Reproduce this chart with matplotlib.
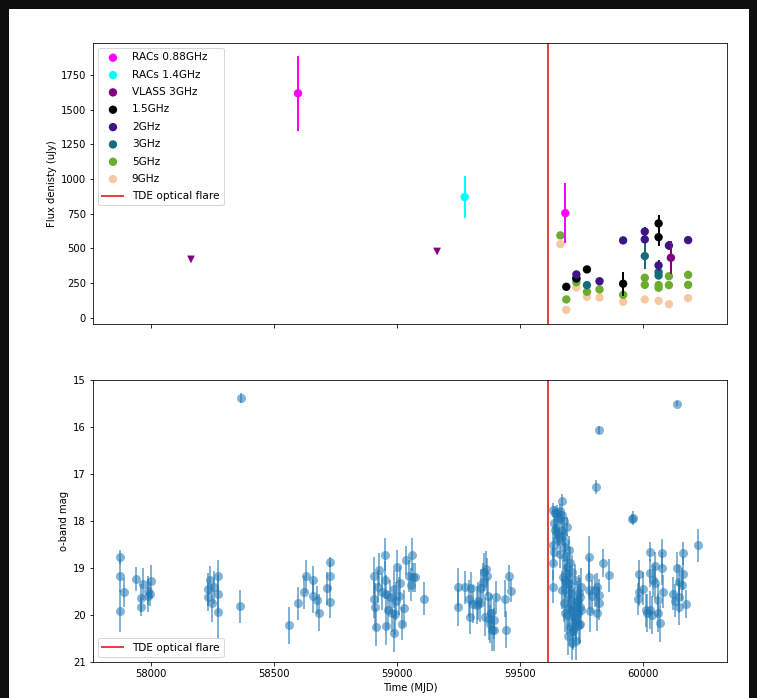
import matplotlib
matplotlib.use("Agg")
import matplotlib.pyplot as plt
from matplotlib.patches import Rectangle
import numpy as np

# ---------------- radio data ----------------
racs088_t = [58597, 59683]
racs088_f = [1617, 754]
racs088_e = [270, 215]

racs14_t = [59274]
racs14_f = [870]
racs14_e = [150]

vlass_lim_t = [58162, 59162]
vlass_lim_f = [421, 478]
vlass_t = [60112]
vlass_f = [433]
vlass_e = [120]

g15_t = [59687, 59728, 59771, 59918, 60062, 60062]
g15_f = [224, 285, 349, 246, 680, 581]
g15_e = [10, 10, 10, 85, 60, 60]

g2_t = [59728, 59822, 59918, 60006, 60006, 60062, 60104, 60182]
g2_f = [313, 264, 558, 622, 565, 378, 521, 560]
g2_e = [15, 15, 10, 30, 15, 40, 35, 10]

g3_t = [59728, 59771, 60006, 60062, 60062]
g3_f = [282, 236, 445, 330, 305]
g3_e = [15, 15, 95, 30, 20]

g5_t = [59663, 59687, 59728, 59771, 59822, 59918, 60006, 60006, 60062, 60062, 60104, 60104, 60182, 60182]
g5_f = [594, 133, 257, 188, 205, 166, 289, 238, 236, 217, 300, 236, 310, 238]
g5_e = [10] * 14

g9_t = [59663, 59687, 59728, 59771, 59822, 59918, 60006, 60062, 60104, 60182]
g9_f = [531, 58, 219, 152, 147, 116, 133, 123, 99, 142]
g9_e = [10] * 10

flare_mjd = 59611

# ---------------- optical data ----------------
o_t = [57875, 57875, 57875, 57889, 57940, 57957, 57957, 57967, 57986, 57986, 58000, 57994,
       58230, 58233, 58241, 58246, 58257, 58271, 58273, 58273, 58363, 58366,
       58560, 58595, 58620, 58628, 58658, 58658, 58674, 58682, 58715, 58725, 58725, 58725,
       58907, 58907, 58911, 58915, 58920, 58928, 58952, 58952, 58956, 58956, 58961, 58972,
       58979, 58988, 58992, 58999, 59006, 59013, 59019, 59026, 59037, 59046, 59056, 59061,
       59064, 59073, 59110, 58995, 58985, 58940,
       59245, 59245, 59275, 59292, 59294, 59300, 59310, 59324, 59337, 59340, 59348, 59354,
       59359, 59365, 59358, 59367, 59371, 59378, 59385, 59392, 59402, 59440, 59443, 59454,
       59462, 59330, 59395, 59380,
       59669, 59635, 59642, 59649, 59655, 59662, 59669, 59676, 59690, 59640, 59648, 59656,
       59637, 59645, 59652, 59660, 59668, 59675, 59683,
       59633, 59633, 59633, 59636, 59676, 59683, 59690, 59697, 59703, 59710, 59673, 59683,
       59697, 59676, 59683, 59703, 59710, 59717, 59730, 59737, 59741, 59737, 59703, 59690,
       59724, 59669, 59744, 59700, 59720, 59735, 59715, 59695, 59725, 59745,
       59662, 59690, 59706, 59714, 59728, 59733, 59722, 59699, 59686, 59744, 59748, 59712,
       59780, 59780, 59780, 59784, 59805, 59811, 59818, 59820, 59813, 59836, 59859, 59791,
       59807, 59818, 59956,
       60136, 59958, 60223, 60028, 60075, 60163, 59981, 60028, 60046, 60075, 60136, 60163,
       59999, 60041, 60048, 60147, 60156, 59981, 60081, 60122, 60143, 60172, 59977, 60058,
       60015, 60036, 60058, 60066, 60028, 60147, 60010, 60130]
o_m = [18.77, 19.16, 19.91, 19.52, 19.23, 19.63, 19.82, 19.34, 19.48, 19.59, 19.28, 19.55,
       19.45, 19.62, 19.26, 19.75, 19.41, 19.17, 19.55, 19.93, 19.81, 15.38,
       20.22, 19.75, 19.52, 19.18, 19.26, 19.60, 19.68, 19.95, 19.43, 18.87, 19.18, 19.72,
       19.16, 19.67, 19.82, 20.26, 19.40, 19.04, 18.72, 19.26, 19.55, 20.23, 19.89, 19.61,
       19.96, 20.38, 19.98, 18.97, 19.60, 19.31, 20.19, 19.86, 18.84, 19.17, 19.36, 18.72,
       19.20, 19.20, 19.65, 19.70, 19.45, 19.50,
       19.40, 19.84, 19.41, 19.65, 20.05, 19.43, 19.77, 19.79, 19.75, 19.43, 19.29, 19.08,
       19.03, 19.18, 20.04, 19.60, 20.09, 20.19, 20.32, 20.31, 19.62, 19.65, 20.31, 19.18,
       19.48, 19.70, 20.10, 19.95,
       17.58, 17.77, 17.84, 17.80, 17.91, 17.78, 17.88, 18.01, 18.12, 18.19, 18.26, 18.33,
       18.05, 18.15, 18.40, 17.95, 18.20, 18.30, 18.44,
       18.51, 18.90, 19.40, 18.65, 18.55, 18.76, 18.97, 18.62, 18.90, 19.08, 19.19, 19.26,
       19.47, 19.75, 19.96, 19.54, 19.89, 20.04, 19.68, 19.54, 19.82, 20.21, 20.25, 20.00,
       19.26, 19.47, 19.61, 19.35, 19.80, 19.95, 20.35, 20.45, 20.15, 19.40,
       18.70, 19.10, 19.65, 20.30, 20.55, 19.70, 20.10, 19.85, 19.30, 20.20, 19.90, 20.60,
       18.76, 19.19, 19.47, 19.92, 19.47, 19.40, 19.58, 19.75, 19.95, 18.90, 19.15, 19.60,
       17.27, 16.06, 17.95,
       15.50, 17.94, 18.52, 18.65, 18.69, 18.69, 19.13, 19.11, 18.96, 19.01, 19.01, 19.12,
       19.44, 19.26, 19.31, 19.29, 19.36, 19.50, 19.50, 19.55, 19.61, 19.77, 19.66, 19.68,
       19.96, 20.00, 19.96, 20.18, 19.89, 19.82, 19.90, 19.70]
o_e = [0.15, 0.35, 0.45, 0.30, 0.25, 0.30, 0.20, 0.35, 0.30, 0.35, 0.35, 0.25,
       0.35, 0.30, 0.30, 0.40, 0.35, 0.35, 0.40, 0.55, 0.35, 0.10,
       0.40, 0.35, 0.35, 0.35, 0.30, 0.35, 0.30, 0.40, 0.35, 0.10, 0.30, 0.35,
       0.40, 0.40, 0.50, 0.40, 0.35, 0.35, 0.35, 0.40, 0.40, 0.40, 0.40, 0.35,
       0.40, 0.40, 0.45, 0.35, 0.40, 0.35, 0.35, 0.40, 0.30, 0.35, 0.35, 0.35,
       0.30, 0.30, 0.35, 0.40, 0.40, 0.40,
       0.40, 0.40, 0.35, 0.40, 0.35, 0.35, 0.40, 0.40, 0.40, 0.40, 0.40, 0.40,
       0.40, 0.40, 0.40, 0.40, 0.45, 0.40, 0.45, 0.45, 0.35, 0.40, 0.40, 0.25,
       0.25, 0.40, 0.40, 0.40,
       0.15, 0.15, 0.15, 0.15, 0.15, 0.15, 0.15, 0.20, 0.20, 0.20, 0.20, 0.20,
       0.15, 0.20, 0.20, 0.15, 0.20, 0.20, 0.25,
       0.30, 0.35, 0.35, 0.30, 0.30, 0.30, 0.30, 0.30, 0.35, 0.35, 0.35, 0.35,
       0.40, 0.40, 0.40, 0.40, 0.45, 0.40, 0.40, 0.40, 0.40, 0.40, 0.40, 0.40,
       0.35, 0.40, 0.40, 0.40, 0.40, 0.40, 0.40, 0.40, 0.40, 0.40,
       0.30, 0.35, 0.40, 0.40, 0.40, 0.35, 0.40, 0.40, 0.35, 0.40, 0.40, 0.35,
       0.45, 0.40, 0.40, 0.45, 0.35, 0.30, 0.35, 0.35, 0.40, 0.30, 0.35, 0.35,
       0.15, 0.08, 0.10,
       0.05, 0.15, 0.35, 0.20, 0.30, 0.25, 0.30, 0.30, 0.30, 0.35, 0.35, 0.35,
       0.35, 0.35, 0.35, 0.35, 0.35, 0.30, 0.35, 0.35, 0.35, 0.30, 0.35, 0.35,
       0.40, 0.40, 0.40, 0.40, 0.40, 0.40, 0.35, 0.35]

# ---------------- figure ----------------
DPI = 72
fig = plt.figure(figsize=(757 / DPI, 698 / DPI), dpi=DPI, facecolor="#0e0e0e")
bg = Rectangle((9 / 757, 0), (749 - 9) / 757, (698 - 9) / 698,
               transform=fig.transFigure, facecolor="white", edgecolor="none")
bg.set_zorder(-10)
fig.add_artist(bg)

ax1 = fig.add_axes([93 / 757, 1 - 324 / 698, (727 - 93) / 757, (324 - 43) / 698])
ax2 = fig.add_axes([93 / 757, 1 - 662 / 698, (727 - 93) / 757, (662 - 380) / 698], sharex=ax1)

ms = 70
c088, c14, cvl = "magenta", "cyan", "purple"
c15, c2, c3, c5, c9 = "black", "#3d1585", "#176b7c", "#6cad2e", "#f6c9a2"

series = [
    (racs088_t, racs088_f, racs088_e, c088, "RACs 0.88GHz"),
    (racs14_t, racs14_f, racs14_e, c14, "RACs 1.4GHz"),
    (vlass_t, vlass_f, vlass_e, cvl, "VLASS 3GHz"),
    (g15_t, g15_f, g15_e, c15, "1.5GHz"),
    (g2_t, g2_f, g2_e, c2, "2GHz"),
    (g3_t, g3_f, g3_e, c3, "3GHz"),
    (g5_t, g5_f, g5_e, c5, "5GHz"),
    (g9_t, g9_f, g9_e, c9, "9GHz"),
]
order_z = {"9GHz": 2, "5GHz": 3, "3GHz": 4, "2GHz": 5, "1.5GHz": 4.5,
           "VLASS 3GHz": 6, "RACs 0.88GHz": 7, "RACs 1.4GHz": 7}
handles = []
for t, f, e, c, lab in series:
    ax1.errorbar(t, f, yerr=e, fmt="none", ecolor=c, elinewidth=2, zorder=order_z[lab])
    h = ax1.scatter(t, f, s=ms, color=c, label=lab, zorder=order_z[lab], edgecolors="none")
    handles.append(h)
ax1.scatter(vlass_lim_t, vlass_lim_f, marker="v", s=60, color=cvl, zorder=6, edgecolors="none")
fl = ax1.axvline(flare_mjd, color="#e8403a", lw=2, label="TDE optical flare")
handles.append(fl)
ax1.legend(handles=handles, loc="upper left", fontsize=10.5, labelspacing=0.7)
ax1.set_ylabel("Flux denisty (uJy)", fontsize=10)
ax1.set_yticks([0, 250, 500, 750, 1000, 1250, 1500, 1750])
plt.setp(ax1.get_xticklabels(), visible=False)

ax2.errorbar(o_t, o_m, yerr=o_e, fmt="o", color="#1f77b4", ms=9, alpha=0.55,
             elinewidth=2, markeredgewidth=0)
fl2 = ax2.axvline(flare_mjd, color="#e8403a", lw=2, label="TDE optical flare")
ax2.legend(handles=[fl2], loc="lower left", fontsize=10.5)
ax2.set_ylim(21, 15)
ax2.set_yticks([15, 16, 17, 18, 19, 20, 21])
ax2.set_ylabel("o-band mag", fontsize=10)
ax2.set_xlabel("Time (MJD)", fontsize=10)
ax2.set_xlim(57764, 60340)
ax2.set_xticks([58000, 58500, 59000, 59500, 60000])

for ax in (ax1, ax2):
    ax.tick_params(labelsize=10)

fig.savefig("out.png", dpi=DPI, facecolor=fig.get_facecolor())
